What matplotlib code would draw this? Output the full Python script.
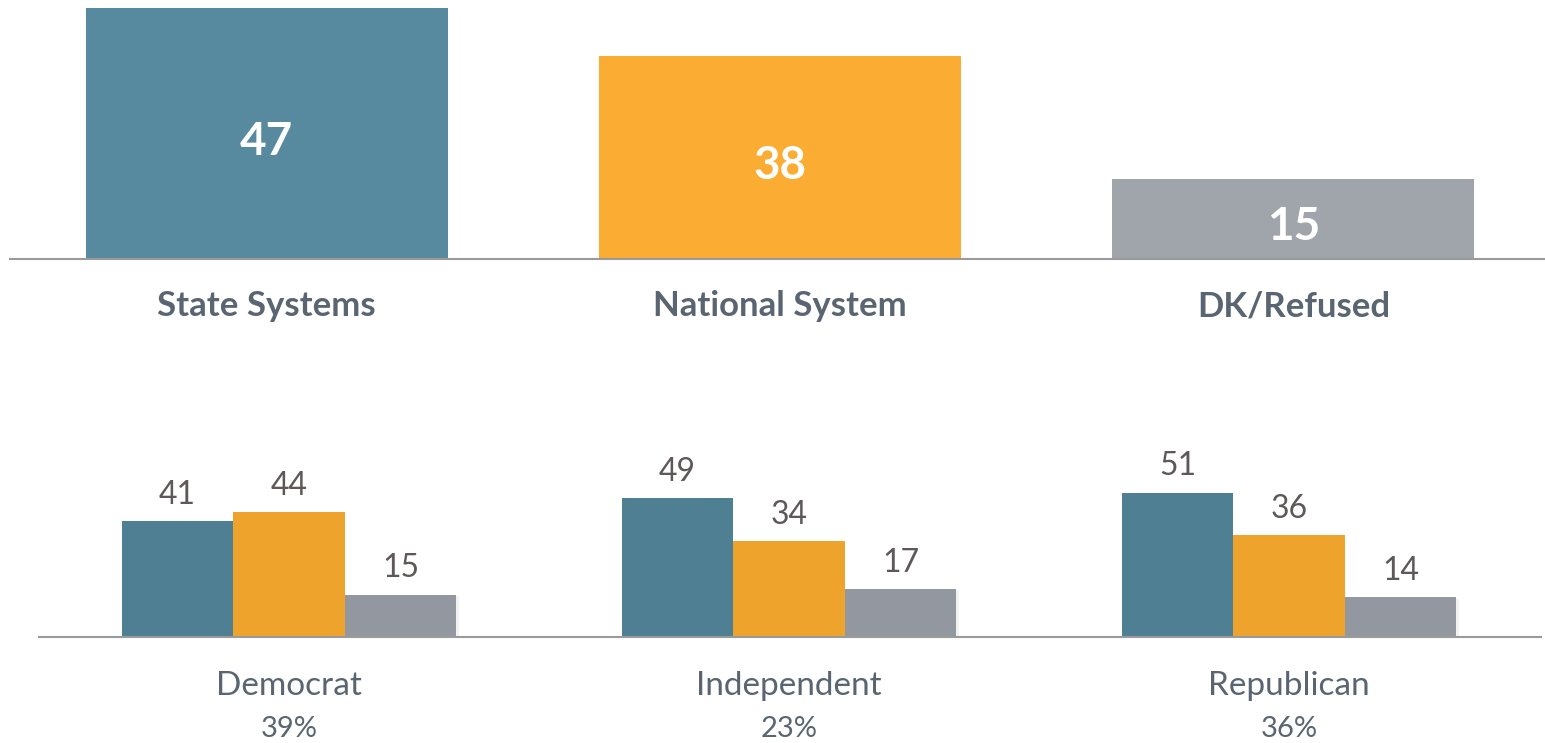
import numpy as np
import matplotlib
matplotlib.use('Agg')
from matplotlib import pyplot as plt
import matplotlib.patheffects as pe

plt.rcParams['font.family'] = ['Lato', 'DejaVu Sans']

# overall result
top_labels = ['State Systems', 'National System', 'DK/Refused']
top_values = [47, 38, 15]
top_colors = ['#578a9e', '#fbac33', '#a0a4ab']

# by party
groups = ['Democrat', 'Independent', 'Republican']
group_share = ['39%', '23%', '36%']
state_vals = [41, 49, 51]
national_vals = [44, 34, 36]
dk_vals = [15, 17, 14]
bottom_colors = ['#4f7f92', '#eea32d', '#9398a0']

label_color = '#5a6572'
value_color = '#5e5858'

W, H = 1545, 743
fig = plt.figure(figsize=(W / 100, H / 100), dpi=100)

# ---- top panel
ax1 = fig.add_axes([10 / W, (H - 259) / H, (W - 10) / W, 251 / H])
x = np.arange(len(top_values))
ax1.bar(x, top_values, width=0.705, color=top_colors, edgecolor='none')
ax1.set_xlim(-0.5, 2.49)
ax1.set_ylim(0, 47)
for i, v in enumerate(top_values):
    ax1.annotate(str(v), (i, v / 2), xytext=(0, -6), textcoords='offset points',
                 ha='center', va='center', color='white', fontsize=33, fontweight='bold')
    ax1.annotate(top_labels[i], (i, 0), xytext=(0, -34), textcoords='offset points',
                 ha='center', va='center', color=label_color, fontsize=25, fontweight='bold')

# ---- bottom panel
ax2 = fig.add_axes([39 / W, (H - 637) / H, (1541 - 39) / W, 170 / H])
gx = np.arange(len(groups))
bw = 0.223
series = [state_vals, national_vals, dk_vals]
# faint drop shadow, only shows to the right of the last bar in each group
shadow = [pe.SimplePatchShadow(offset=(2, -1), shadow_rgbFace='#000000', alpha=0.05), pe.Normal()]
for k, vals in enumerate(series):
    pos = gx + (k - 1) * bw
    bars = ax2.bar(pos, vals, width=bw, color=bottom_colors[k], edgecolor='none')
    if k == 2:
        for b in bars:
            b.set_path_effects(shadow)
    for p, v in zip(pos, vals):
        ax2.annotate(str(v), (p, v), xytext=(0, 8), textcoords='offset points',
                     ha='center', va='bottom', color=value_color, fontsize=23)
ax2.set_xlim(-0.5, 2.504)
ax2.set_ylim(0, 60)
for i, g in enumerate(groups):
    ax2.annotate(g, (i, 0), xytext=(0, -35), textcoords='offset points',
                 ha='center', va='center', color=label_color, fontsize=24)
    ax2.annotate(group_share[i], (i, 0), xytext=(0, -66), textcoords='offset points',
                 ha='center', va='center', color=label_color, fontsize=21)

for ax in (ax1, ax2):
    for s in ['top', 'right', 'left']:
        ax.spines[s].set_visible(False)
    ax.spines['bottom'].set_color('#9a9a9a')
    ax.spines['bottom'].set_linewidth(1.5)
    ax.spines['bottom'].set_zorder(5)
    ax.set_xticks([])
    ax.set_yticks([])
    ax.patch.set_alpha(0)

fig.savefig('out.png', dpi=100)
